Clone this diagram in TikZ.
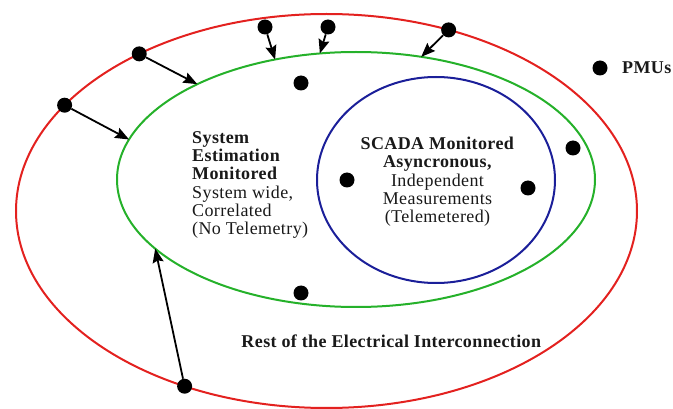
\documentclass[tikz,border=0pt]{standalone}
\usepackage{fontspec}
\setmainfont{Liberation Serif}[LetterSpace=2.2]
\usetikzlibrary{positioning,arrows.meta,shapes.geometric}
\definecolor{restred}{HTML}{E3211F}
\definecolor{estgreen}{HTML}{25B12A}
\definecolor{scadablue}{HTML}{1B1F99}

\begin{document}
\begin{tikzpicture}[
  x=1pt, y=-1pt,
  % the three nested areas
  area/.style={ellipse, line width=2pt, inner sep=0, outer sep=0},
  pmu/.style={circle, fill=black, minimum size=15pt, inner sep=0},
  feed/.style={draw=black, line width=1.8pt,
               -{Stealth[length=14pt, width=11pt, inset=2pt]}},
  lbl/.style={font=\fontsize{18}{18.3}\selectfont, inner sep=0, text=black!90}
]
\useasboundingbox (0,0) rectangle (673,409);

% ══ areas ══════════════════════════════════════════════════════════════════
\node[area, draw=restred, minimum width=621pt, minimum height=394pt]
  (rest) at (326.5,211) {};
\node[area, draw=estgreen, minimum width=478pt, minimum height=255pt]
  (est) at (356,179.5) {};
\node[area, draw=scadablue, minimum width=238pt, minimum height=206pt]
  (scada) at (436,180) {};

% ══ texts ══════════════════════════════════════════════════════════════════
\node[lbl, anchor=north west, align=left] (esttext) at (192,131)
  {\textbf{System}\\\textbf{Estimation}\\\textbf{Monitored}\\System wide,\\
   Correlated\\(No Telemetry)};
\node[lbl, anchor=north, align=center] (scadatext) at (437.5,137)
  {\textbf{SCADA Monitored}\\\textbf{Asyncronous,}\\Independent\\
   Measurements\\(Telemetered)};
\node[lbl, anchor=base] (resttext) at (391.5,347)
  {\textbf{Rest of the Electrical Interconnection}};

% ══ PMUs on the outer ring, each feeding the estimator ════════════════════
\node[pmu] (pTopA) at (265,27) {};
\node[pmu] (pTopB) at (328,27) {};
\node[pmu] (pTopC) at (rest.56.4) {};
\node[pmu] (pUpLeft) at (rest.140.4) {};
\node[pmu] (pLeft) at (rest.158.1) {};
\node[pmu] (pLow) at (rest.231.6) {};

\draw[feed] (pTopA) -- (est.124.2);
\draw[feed] (pTopB) -- (est.106.2);
\draw[feed] (pTopC) -- (est.62.5);
\draw[feed] (pUpLeft) -- (est.149.9);
\draw[feed] (pLeft) -- (est.170);
\draw[feed] (pLow) -- (est.199.3);

% ══ PMUs inside ════════════════════════════════════════════════════════════
\node[pmu] (pInTop) at (301,83) {};
\node[pmu] (pInBottom) at (301,293) {};
\node[pmu] (pInRight) at (573,148) {};
\node[pmu] (pScadaL) at (347,180) {};
\node[pmu] (pScadaR) at (528,188) {};

% ══ key ════════════════════════════════════════════════════════════════════
\node[pmu] (pKey) at (600,68) {};
\node[lbl, anchor=base west] (keytext) at (622,74) {\textbf{PMUs}};

\end{tikzpicture}
\end{document}
